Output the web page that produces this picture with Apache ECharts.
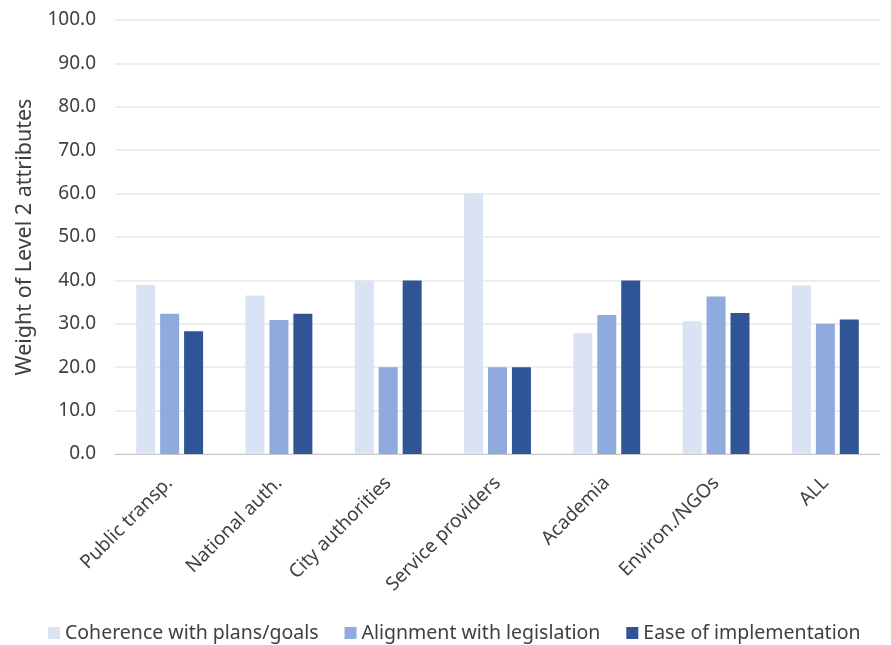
<!DOCTYPE html>
<html><head><meta charset="utf-8">
<script src="https://cdn.jsdelivr.net/npm/echarts@6/dist/echarts.min.js"></script>
<style>html,body{margin:0;padding:0;background:#fff}#c{width:891px;height:645px}</style>
</head><body><div id="c"></div>
<script>
var categories = ["Public transp.", "National auth.", "City authorities", "Service providers", "Academia", "Environ./NGOs", "ALL"];
var coherence = [39.0, 36.5, 40.0, 60.0, 27.8, 30.6, 38.8];
var alignment = [32.3, 30.9, 20.0, 20.0, 32.0, 36.3, 30.0];
var ease = [28.3, 32.3, 40.0, 20.0, 40.0, 32.5, 31.0];
var seriesNames = ["Coherence with plans/goals", "Alignment with legislation", "Ease of implementation"];
var colors = ["#DAE3F3", "#8FAADC", "#2F5597"];
var FONT = "Noto Sans";
var chart = echarts.init(document.getElementById('c'));
chart.setOption({
  animation: false,
  textStyle: {fontFamily: FONT},
  grid: {left: 115, right: 11, top: 20, bottom: 191},
  legend: {
    top: 623, left: 48, padding: 0, itemWidth: 12, itemHeight: 12, itemGap: 26,
    icon: 'rect',
    textStyle: {fontSize: 19.5, color: '#404040', fontFamily: FONT},
    data: seriesNames
  },
  xAxis: {
    type: 'category', data: categories,
    axisTick: {show: false},
    axisLine: {lineStyle: {color: '#C8C8C8', width: 1}},
    axisLabel: {rotate: 45, fontSize: 19, color: '#404040', margin: 26, interval: 0}
  },
  yAxis: {
    type: 'value', min: 0, max: 100, interval: 10,
    name: 'Weight of Level 2 attributes', nameLocation: 'middle', nameGap: 79,
    nameTextStyle: {fontSize: 21.5, color: '#404040'},
    axisLabel: {fontSize: 19, color: '#404040', margin: 19, formatter: function(v){return v.toFixed(1);}},
    splitLine: {lineStyle: {color: '#E8E8E8', width: 1.5}},
    axisLine: {show: false}, axisTick: {show: false}
  },
  series: [
    {name: seriesNames[0], type: 'bar', data: coherence, barWidth: 19, barGap: '26%', itemStyle: {color: colors[0]}},
    {name: seriesNames[1], type: 'bar', data: alignment, barWidth: 19, barGap: '26%', itemStyle: {color: colors[1]}},
    {name: seriesNames[2], type: 'bar', data: ease, barWidth: 19, barGap: '26%', itemStyle: {color: colors[2]}}
  ]
});
</script></body></html>
